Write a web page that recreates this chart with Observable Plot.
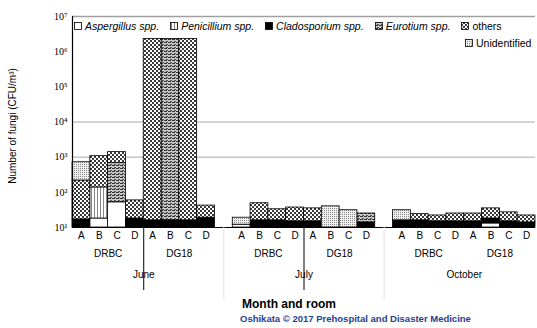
<!DOCTYPE html>
<html><head><meta charset="utf-8">
<script src="https://cdn.jsdelivr.net/npm/d3@7"></script>
<script src="https://cdn.jsdelivr.net/npm/@observablehq/plot@0.6"></script>
<style>
body{margin:0;background:#fff;font-family:"Liberation Sans",Arial,sans-serif;color:#000}
#wrap{position:relative;width:537px;height:328px;overflow:hidden}
#wrap svg.plot{position:absolute;left:0;top:0}
.abs{position:absolute;white-space:nowrap}
#legend{position:absolute;left:74px;top:20px;font-size:10.5px;line-height:12px}
#legend .row{display:flex;gap:11px;align-items:center}
#legend .it{display:flex;align-items:center;gap:3px}
#legend svg{display:block}
</style></head><body>
<svg width="0" height="0" style="position:absolute">
<defs>
<pattern id="pPen" width="3" height="3" patternUnits="userSpaceOnUse"><rect width="3" height="3" fill="#fff"/><rect x="1" width="1" height="3" fill="#888"/></pattern>
<pattern id="pEur" width="4" height="3" patternUnits="userSpaceOnUse"><rect width="4" height="3" fill="#c8c8c8"/><rect width="3" height="1" fill="#333"/><rect x="2" y="2" width="2" height="1" fill="#555"/></pattern>
<pattern id="pOth" width="4" height="4" patternUnits="userSpaceOnUse"><rect width="4" height="4" fill="#3a3a3a"/><rect width="2" height="2" fill="#fff"/><rect x="2" y="2" width="2" height="2" fill="#fff"/></pattern>
<pattern id="pUnid" width="2" height="2" patternUnits="userSpaceOnUse"><rect width="2" height="2" fill="#f0f0f0"/><rect width="1" height="1" fill="#8a8a8a"/></pattern>
</defs>
</svg>
<div id="wrap"></div>
<script>
const months = ["June", "July", "October"];
const rooms = ["DRBC", "DG18"];
const letters = ["A", "B", "C", "D"];
const genera = ["Aspergillus spp.", "Penicillium spp.", "Cladosporium spp.", "Eurotium spp.", "others", "Unidentified"];
// CFU/m3 per bar: June DRBC A-D, June DG18 A-D, July DRBC A-D, July DG18 A-D, October DRBC A-D, October DG18 A-D
const aspergillus  = [0, 18, 52, 0,   0, 0, 0, 0,   12, 0, 0, 0,   0, 0, 0, 0,    0, 0, 0, 0,    0, 13, 0, 0];
const penicillium  = [0, 120, 0, 0,   0, 0, 0, 0,   0, 0, 0, 0,    0, 0, 0, 0,    0, 0, 0, 0,    0, 0, 0, 0];
const cladosporium = [17, 0, 0, 18,   16, 16, 16, 19,   0, 16, 16, 15,   15, 0, 0, 14,   16, 16, 15, 15,   15, 5, 15, 14];
const eurotium     = [0, 0, 624, 0,   0, 2300000, 0, 0,   0, 0, 0, 0,   0, 0, 0, 11,   0, 0, 0, 0,   0, 0, 0, 0];
const others       = [200, 930, 714, 41,   2300000, 0, 2300000, 23,   0, 33, 17, 22,   20, 0, 0, 0,   0, 8, 7, 10,   10, 17, 12, 8];
const unidentified = [500, 0, 0, 0,   0, 0, 0, 0,   7, 0, 0, 0,   0, 40, 31, 0,   15, 0, 0, 0,   0, 0, 0, 0];
const yTicks = [1e1, 1e2, 1e3, 1e4, 1e5, 1e6, 1e7];
const gridValues = [1e3, 1e4];

const series = [aspergillus, penicillium, cladosporium, eurotium, others, unidentified];
const fills = ["#fff", "url(#pPen)", "#000", "url(#pEur)", "url(#pOth)", "url(#pUnid)"];

const keyOf = (m, r, l) => `${m}|${r}|${l}`;
const xDomain = [];
months.forEach((m, mi) => {
  if (mi > 0) xDomain.push("gap" + mi);
  rooms.forEach(r => letters.forEach(l => xDomain.push(keyOf(m, r, l))));
});

const segs = [];
for (let i = 0; i < 24; i++) {
  const m = months[Math.floor(i / 8)], r = rooms[Math.floor(i / 4) % 2], l = letters[i % 4];
  let cum = 0;
  series.forEach((s, g) => {
    const v = s[i];
    if (v > 0) segs.push({key: keyOf(m, r, l), genus: g, y1: Math.max(10, cum), y2: Math.max(10, cum + v)});
    cum += v;
  });
}

const W = 537, H = 300, ML = 72, MR = 2, MT = 16, MB = 73;
const bw = (W - ML - MR) / xDomain.length;
const frameH = H - MT - MB;
const sup = {1: "¹", 2: "²", 3: "³", 4: "⁴", 5: "⁵", 6: "⁶", 7: "⁷"};

const roomLabels = [];
months.forEach(m => rooms.forEach(r => roomLabels.push({key: keyOf(m, r, "B"), text: r})));

const plot = Plot.plot({
  width: W, height: H, marginTop: MT, marginBottom: MB, marginLeft: ML, marginRight: MR,
  style: {fontFamily: "Liberation Sans, Arial, sans-serif", fontSize: "10px", color: "#000", background: "transparent"},
  x: {domain: xDomain, padding: 0, round: false, axis: null},
  y: {type: "log", domain: [10, 1e7], axis: null},
  marks: [
    Plot.ruleY(gridValues, {stroke: "#a8a8a8", strokeWidth: 1}),
    Plot.ruleY([1e7], {stroke: "#a0a0a0", strokeWidth: 1.5}),
    ...genera.map((g, gi) => Plot.barY(segs.filter(d => d.genus === gi), {
      x: "key", y1: "y1", y2: "y2", fill: fills[gi], stroke: "#000", strokeWidth: 0.8, inset: 0
    })),
    Plot.ruleY([10], {stroke: "#000", strokeWidth: 1.2}),
    Plot.frame({anchor: "left", stroke: "#000", strokeWidth: 1.2}),
    Plot.axisY({ticks: yTicks, tickFormat: v => "10" + sup[Math.round(Math.log10(v))], tickSize: 0, tickPadding: 5, fontFamily: "Liberation Serif, serif", fontSize: 10, label: null}),
    Plot.axisX({tickFormat: k => k.startsWith("gap") ? "" : k.split("|")[2], tickSize: 0, tickPadding: 4, fontSize: 10, label: null}),
    Plot.ruleX(["June", "July"], {x: m => keyOf(m, "DG18", "A"), dx: -bw / 2, insetTop: frameH, insetBottom: -63, stroke: "#000", strokeWidth: 1}),
    Plot.ruleX(["gap1", "gap2"], {x: d => d, insetTop: frameH, insetBottom: -75, stroke: "#e2e2e2", strokeWidth: 1}),
    Plot.text(roomLabels, {x: "key", text: "text", dx: bw / 2, frameAnchor: "bottom", dy: 29, fontSize: 10}),
    Plot.text(months, {x: m => keyOf(m, "DRBC", "D"), text: d => d, dx: bw / 2, frameAnchor: "bottom", dy: 50, fontSize: 10})
  ]
});
plot.classList.add("plot");
const wrap = document.getElementById("wrap");
wrap.appendChild(plot);

// legend
const legend = document.createElement("div");
legend.id = "legend";
function item(i) {
  const it = document.createElement("span");
  it.className = "it";
  it.innerHTML = `<svg width="8" height="8"><rect x="0.5" y="0.5" width="7" height="7" fill="${fills[i]}" stroke="#000" stroke-width="0.8"/></svg><span style="${i < 4 ? 'font-style:italic' : ''}">${genera[i]}</span>`;
  return it;
}
const row1 = document.createElement("div"); row1.className = "row";
[0, 1, 2, 3, 4].forEach(i => row1.appendChild(item(i)));
const row2 = document.createElement("div"); row2.className = "row";
row2.style.marginLeft = "391px"; row2.style.marginTop = "5px";
row2.appendChild(item(5));
legend.appendChild(row1); legend.appendChild(row2);
wrap.appendChild(legend);

function addText(txt, css) {
  const d = document.createElement("div");
  d.className = "abs"; d.textContent = txt; d.style.cssText += css;
  wrap.appendChild(d);
  return d;
}
addText("Number of fungi (CFU/m³)", "left:12px;top:126px;font-size:10px;transform:translate(-50%,-50%) rotate(-90deg);");
addText("Month and room", "left:242px;top:297px;font-size:12px;font-weight:bold;");
addText("Oshikata © 2017 Prehospital and Disaster Medicine", "left:240px;top:313px;font-size:9.5px;font-weight:bold;color:#24418f;");
</script>
</body></html>
